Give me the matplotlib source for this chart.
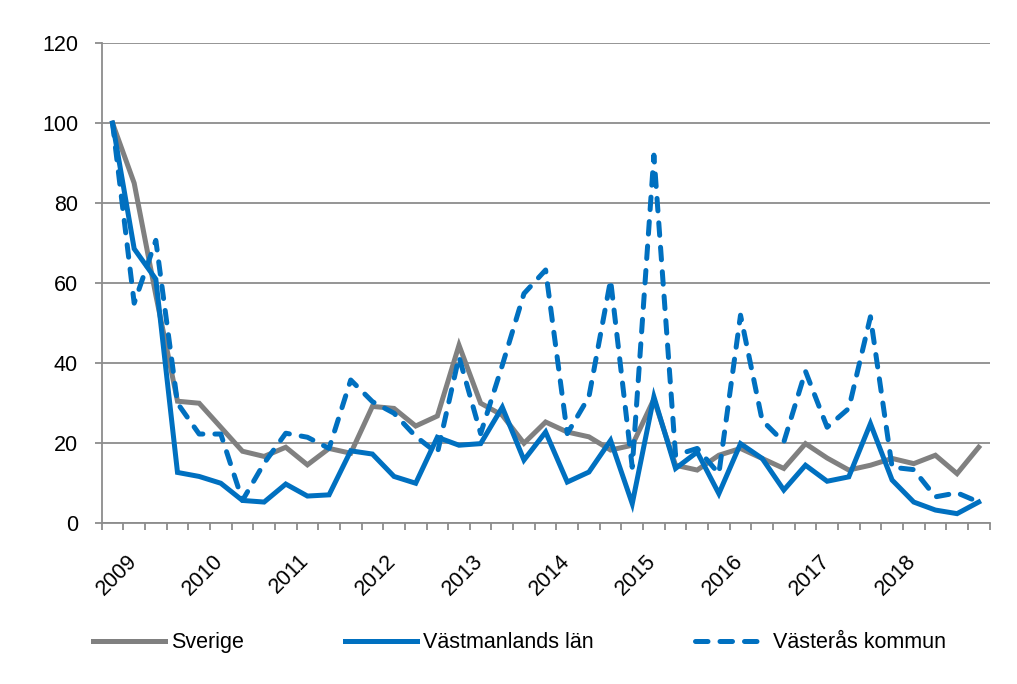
import numpy as np
import matplotlib
matplotlib.use("Agg")
import matplotlib.pyplot as plt
import matplotlib.transforms as mtransforms

plt.rcParams['font.family'] = ['Liberation Sans', 'DejaVu Sans']

# quarterly index, 2009 Q1 = 100 (2009Q1 .. 2019Q1)
years = ["2009", "2010", "2011", "2012", "2013", "2014", "2015", "2016", "2017", "2018"]

sverige = [100, 85, 57, 30.5, 30, 24, 18, 16.7, 19, 14.6, 18.7,
           17.5, 29.2, 28.7, 24.3, 26.8, 44.5, 30, 27, 20, 25.3,
           22.8, 21.6, 18.3, 19.5, 31, 14.5, 13.3, 17, 18.7, 16.2,
           13.7, 19.9, 16.3, 13.3, 14.5, 16.2, 14.9, 17, 12.4, 19]

vastmanland = [100, 68.6, 61, 12.7, 11.7, 10, 5.7, 5.3, 9.8, 6.8, 7.1,
               18.1, 17.3, 11.7, 10, 21.5, 19.5, 19.9, 29, 15.8, 22.8,
               10.3, 12.8, 20.7, 4.9, 31.6, 13.7, 17.8, 7.4, 19.9, 16.2,
               8.3, 14.5, 10.5, 11.6, 24.9, 10.8, 5.3, 3.3, 2.4, 5.3]

vasteras = [100, 55, 70.7, 30, 22.3, 22.3, 5.7, 15, 22.5, 21.5, 18.7,
            35.8, 30.4, 27.5, 21.7, 17.5, 41.6, 22.4, 39.5, 57.4, 63.3,
            22.4, 31.6, 60.8, 14, 92, 17, 18.7, 12.4, 52, 25.7,
            20.3, 38, 24, 28.7, 51.6, 14, 13.4, 6.6, 7.6, 5.3]

gray = "#808080"
blue = "#0070C0"
gridc = "#8C8C8C"

n = len(sverige)
x = np.arange(n)

fig = plt.figure(figsize=(10.17, 6.84), dpi=100)
ax = fig.add_axes([0.1, 0.235, 0.873, 0.702])

ax.plot(x, sverige, color=gray, lw=3.6, label="Sverige", solid_joinstyle="miter")
ax.plot(x, vastmanland, color=blue, lw=3.6, label="Västmanlands län", solid_joinstyle="miter")
ax.plot(x, vasteras, color=blue, lw=3.6, ls=(0, (2.5, 2.4)), label="Västerås kommun",
        dash_capstyle="round")

ax.set_xlim(-0.5, n - 0.5)
ax.set_ylim(0, 120)
ax.set_yticks(np.arange(0, 121, 20))
ax.grid(axis="y", color=gridc, lw=1.3)
ax.set_axisbelow(True)

for s in ["top", "right"]:
    ax.spines[s].set_visible(False)
for s in ["left", "bottom"]:
    ax.spines[s].set_color(gridc)
    ax.spines[s].set_linewidth(1.3)

# tick marks between categories, labels once per year
ax.set_xticks(np.arange(-0.5, n, 1.0))
ax.set_xticklabels([])
ax.tick_params(axis="x", length=5, color=gridc, width=1.3)
ax.tick_params(axis="y", length=5, color=gridc, width=1.3, labelsize=15.5, pad=12)

offset = mtransforms.ScaledTranslation(4 / 100, 0, fig.dpi_scale_trans)
for k, yr in enumerate(years):
    ax.text(4 * k, -6.8, yr, rotation=45, ha="center", va="top", fontsize=15.5,
            transform=ax.transData + offset, clip_on=False)

fig.legend(loc="center", bbox_to_anchor=(0.511, 0.06), ncol=3, frameon=False,
           fontsize=15.5, handlelength=3.35, columnspacing=4.7, handletextpad=0.28)

fig.savefig("out.png", dpi=100)
